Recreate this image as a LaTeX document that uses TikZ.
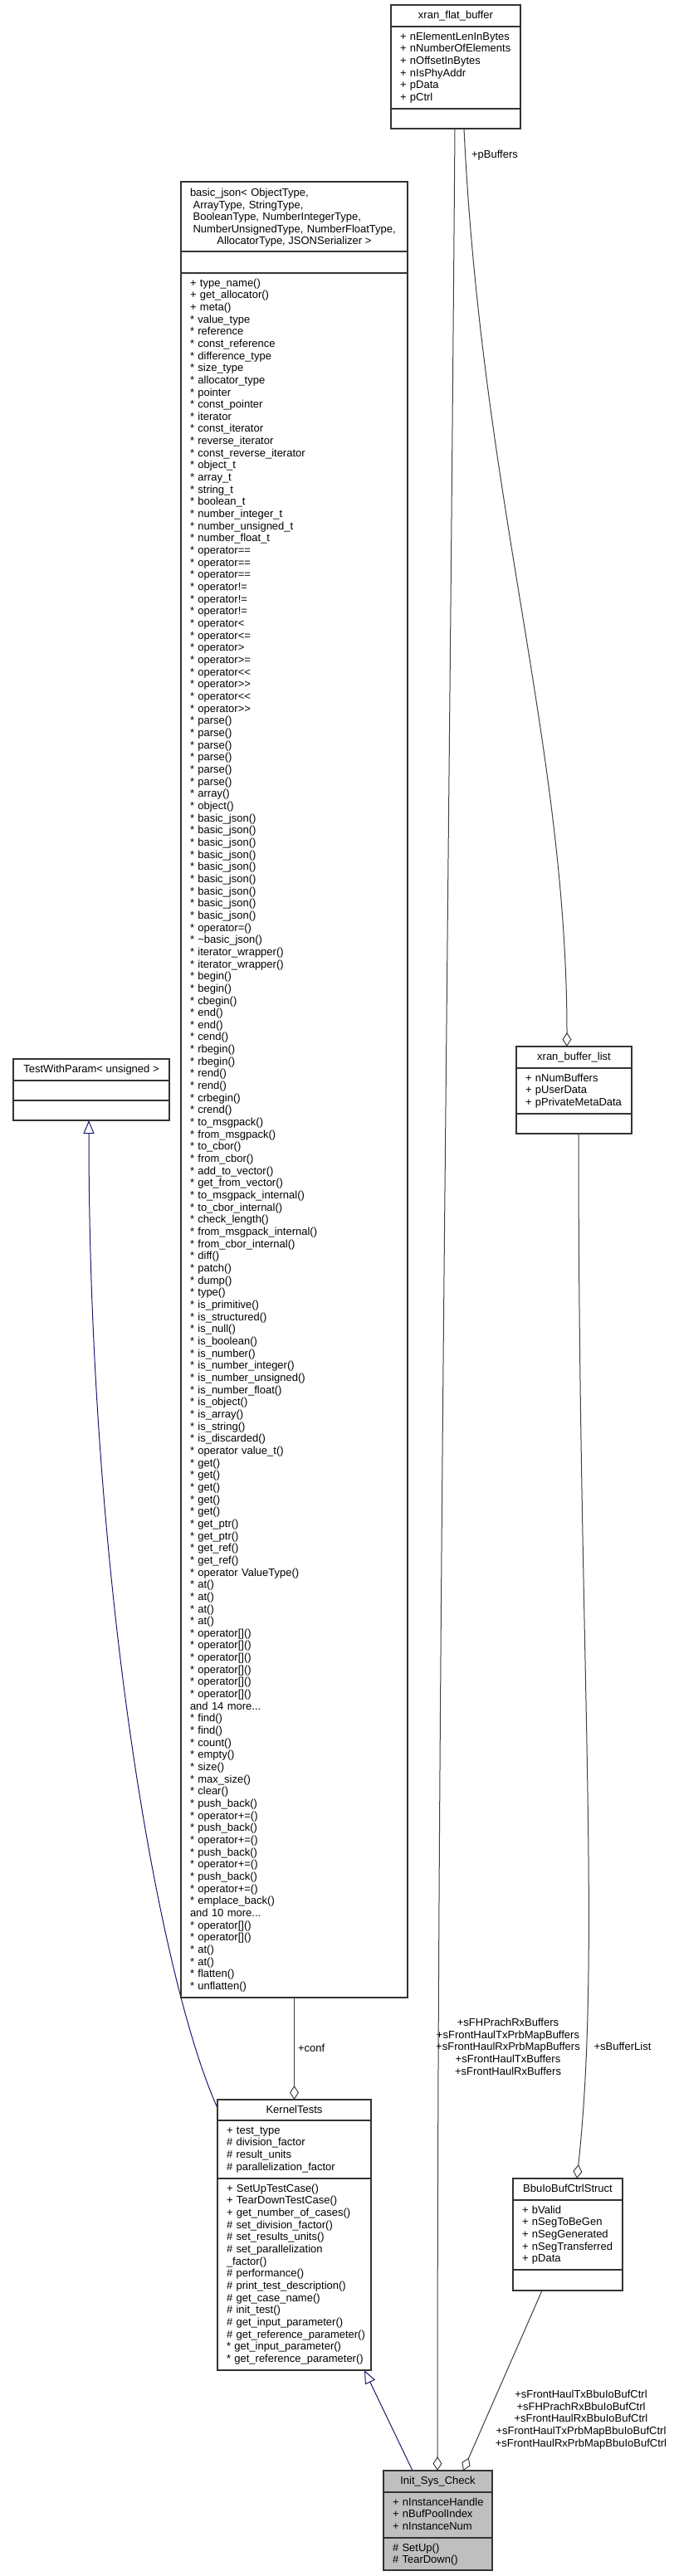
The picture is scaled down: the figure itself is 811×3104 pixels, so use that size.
\documentclass[tikz,border=0pt]{standalone}
\usepackage{fontspec}
\setmainfont{Liberation Sans}
\usetikzlibrary{arrows.meta}
\definecolor{edgegray}{HTML}{404040}
\definecolor{inhblue}{HTML}{191970}
\definecolor{rootgray}{HTML}{BFBFBF}
\definecolor{boxline}{HTML}{333333}
\begin{document}
\begin{tikzpicture}[x=1pt,y=-1pt,
  txt/.style={inner sep=0pt, outer sep=0pt, font=\fontsize{13}{14.66}\selectfont, text=black},
  listtxt/.style={txt, text width=300pt, align=left, anchor=north west},
  labtxt/.style={txt, text width=240pt, align=center, anchor=north},
  titletxt/.style={txt, anchor=base},
  umlbox/.style={draw=boxline, line width=1.2pt, fill=white, inner sep=0pt, outer sep=0pt, anchor=north west},
  rootbox/.style={umlbox, fill=rootgray},
  sepline/.style={draw=boxline, line width=1.2pt},
  agg/.style={draw=edgegray, line width=1pt, -{Diamond[length=17pt,width=11pt,fill=white]}},
  inh/.style={draw=inhblue, line width=1pt, -{Triangle[open,length=16pt,width=13pt]}}]
\fill[white] (0,0) rectangle (811,3104);
\useasboundingbox (0,0) rectangle (811,3104);

% ---------- connector end points ----------
\coordinate (xfbA) at (548,155);
\coordinate (xfbB) at (559,155);
\coordinate (xblIn) at (683,1261);
\coordinate (xblOut) at (697,1366);
\coordinate (bbuIn) at (695,2625);
\coordinate (bbuOut) at (653,2760);
\coordinate (iscInA) at (527,2977);
\coordinate (iscInB) at (558,2977);
\coordinate (iscOut) at (497,2977);
\coordinate (ktOut) at (262,2540);
\coordinate (ktBase) at (439,2856);
\coordinate (twpBase) at (107,1350);
\coordinate (bjOut) at (354.5,2407);
\coordinate (ktIn) at (354.5,2530);

% ---------- connectors ----------
\draw[agg] (xfbA) .. controls (540,1200) and (527,2000) .. (iscInA);
\draw[agg] (xfbB) .. controls (580,600) and (683,900) .. (xblIn);
\draw[agg] (xblOut) .. controls (697,2000) and (725,2350) .. (bbuIn);
\draw[agg] (bbuOut) -- (iscInB);
\draw[agg] (bjOut) -- (ktIn);
\draw[inh] (ktOut) .. controls (190,2380) and (107,1900) .. (twpBase);
\draw[inh] (iscOut) -- (ktBase);

% ---------- xran_flat_buffer ----------
\node[umlbox, minimum width=156pt, minimum height=149pt] (xfb) at (471,6) {};
\draw[sepline] (471,32) -- (627,32);
\draw[sepline] (471,131) -- (627,131);
\node[titletxt] (xfbT) at (549,22.5) {xran\_flat\_buffer};
\node[listtxt] (xfbA1) at (482,37.8) {\strut + nElementLenInBytes\\+ nNumberOfElements\\+ nOffsetInBytes\\+ nIsPhyAddr\\+ pData\\+ pCtrl};

% ---------- basic_json ----------
\node[umlbox, minimum width=273pt, minimum height=2188pt] (bj) at (218,219) {};
\draw[sepline] (218,303) -- (491,303);
\draw[sepline] (218,329) -- (491,329);
\node[listtxt] (bjT1) at (229,226.3) {\strut basic\_json< ObjectType,\\\hspace*{3.6pt}ArrayType, StringType,\\\hspace*{3.6pt}BooleanType, NumberIntegerType,\\\hspace*{3.6pt}NumberUnsignedType, NumberFloatType,};
\node[titletxt] (bjT2) at (354.5,294.6) {AllocatorType, JSONSerializer >};
\node[listtxt] (bjM) at (229,334.8) {\strut + type\_name()\\{}+ get\_allocator()\\{}+ meta()\\{}* value\_type\\{}* reference\\{}* const\_reference\\{}* difference\_type\\{}* size\_type\\{}* allocator\_type\\{}* pointer\\{}* const\_pointer\\{}* iterator\\{}* const\_iterator\\{}* reverse\_iterator\\{}* const\_reverse\_iterator\\{}* object\_t\\{}* array\_t\\{}* string\_t\\{}* boolean\_t\\{}* number\_integer\_t\\{}* number\_unsigned\_t\\{}* number\_float\_t\\{}* operator==\\{}* operator==\\{}* operator==\\{}* operator!=\\{}* operator!=\\{}* operator!=\\{}* operator<\\{}* operator<=\\{}* operator>\\{}* operator>=\\{}* operator<{}<\\{}* operator>{}>\\{}* operator<{}<\\{}* operator>{}>\\{}* parse()\\{}* parse()\\{}* parse()\\{}* parse()\\{}* parse()\\{}* parse()\\{}* array()\\{}* object()\\{}* basic\_json()\\{}* basic\_json()\\{}* basic\_json()\\{}* basic\_json()\\{}* basic\_json()\\{}* basic\_json()\\{}* basic\_json()\\{}* basic\_json()\\{}* basic\_json()\\{}* operator=()\\{}* \textasciitilde basic\_json()\\{}* iterator\_wrapper()\\{}* iterator\_wrapper()\\{}* begin()\\{}* begin()\\{}* cbegin()\\{}* end()\\{}* end()\\{}* cend()\\{}* rbegin()\\{}* rbegin()\\{}* rend()\\{}* rend()\\{}* crbegin()\\{}* crend()\\{}* to\_msgpack()\\{}* from\_msgpack()\\{}* to\_cbor()\\{}* from\_cbor()\\{}* add\_to\_vector()\\{}* get\_from\_vector()\\{}* to\_msgpack\_internal()\\{}* to\_cbor\_internal()\\{}* check\_length()\\{}* from\_msgpack\_internal()\\{}* from\_cbor\_internal()\\{}* diff()\\{}* patch()\\{}* dump()\\{}* type()\\{}* is\_primitive()\\{}* is\_structured()\\{}* is\_null()\\{}* is\_boolean()\\{}* is\_number()\\{}* is\_number\_integer()\\{}* is\_number\_unsigned()\\{}* is\_number\_float()\\{}* is\_object()\\{}* is\_array()\\{}* is\_string()\\{}* is\_discarded()\\{}* operator value\_t()\\{}* get()\\{}* get()\\{}* get()\\{}* get()\\{}* get()\\{}* get\_ptr()\\{}* get\_ptr()\\{}* get\_ref()\\{}* get\_ref()\\{}* operator ValueType()\\{}* at()\\{}* at()\\{}* at()\\{}* at()\\{}* operator[]()\\{}* operator[]()\\{}* operator[]()\\{}* operator[]()\\{}* operator[]()\\{}* operator[]()\\{}and 14 more...\\{}* find()\\{}* find()\\{}* count()\\{}* empty()\\{}* size()\\{}* max\_size()\\{}* clear()\\{}* push\_back()\\{}* operator+=()\\{}* push\_back()\\{}* operator+=()\\{}* push\_back()\\{}* operator+=()\\{}* push\_back()\\{}* operator+=()\\{}* emplace\_back()\\{}and 10 more...\\{}* operator[]()\\{}* operator[]()\\{}* at()\\{}* at()\\{}* flatten()\\{}* unflatten()};

% ---------- TestWithParam ----------
\node[umlbox, minimum width=188pt, minimum height=74pt] (twp) at (16,1276) {};
\draw[sepline] (16,1302) -- (204,1302);
\draw[sepline] (16,1326) -- (204,1326);
\node[titletxt] (twpT) at (110,1292.5) {TestWithParam< unsigned >};

% ---------- xran_buffer_list ----------
\node[umlbox, minimum width=139pt, minimum height=105pt] (xbl) at (622,1261) {};
\draw[sepline] (622,1287) -- (761,1287);
\draw[sepline] (622,1342) -- (761,1342);
\node[titletxt] (xblT) at (691.5,1277.5) {xran\_buffer\_list};
\node[listtxt] (xblA) at (633,1292.8) {\strut + nNumBuffers\\+ pUserData\\+ pPrivateMetaData};

% ---------- BbuIoBufCtrlStruct ----------
\node[umlbox, minimum width=132pt, minimum height=135pt] (bbu) at (618,2625) {};
\draw[sepline] (618,2651) -- (750,2651);
\draw[sepline] (618,2735) -- (750,2735);
\node[titletxt] (bbuT) at (684,2641.5) {BbuIoBufCtrlStruct};
\node[listtxt] (bbuA) at (629,2656.8) {\strut + bValid\\+ nSegToBeGen\\+ nSegGenerated\\+ nSegTransferred\\+ pData};

% ---------- KernelTests ----------
\node[umlbox, minimum width=185pt, minimum height=326pt] (kt) at (262,2530) {};
\draw[sepline] (262,2555) -- (447,2555);
\draw[sepline] (262,2625) -- (447,2625);
\node[titletxt] (ktT) at (354.5,2546.5) {KernelTests};
\node[listtxt] (ktA) at (273,2560.8) {\strut + test\_type\\\# division\_factor\\\# result\_units\\\# parallelization\_factor};
\node[listtxt] (ktM) at (273,2630.8) {\strut + SetUpTestCase()\\{}+ TearDownTestCase()\\{}+ get\_number\_of\_cases()\\{}\# set\_division\_factor()\\{}\# set\_results\_units()\\{}\# set\_parallelization\\{}\_factor()\\{}\# performance()\\{}\# print\_test\_description()\\{}\# get\_case\_name()\\{}\# init\_test()\\{}\# get\_input\_parameter()\\{}\# get\_reference\_parameter()\\{}* get\_input\_parameter()\\{}* get\_reference\_parameter()};

% ---------- Init_Sys_Check ----------
\node[rootbox, minimum width=131pt, minimum height=120pt] (isc) at (462,2977) {};
\draw[sepline] (462,3003) -- (593,3003);
\draw[sepline] (462,3058) -- (593,3058);
\node[titletxt] (iscT) at (527.5,2993.5) {Init\_Sys\_Check};
\node[listtxt] (iscA) at (473,3008.8) {\strut + nInstanceHandle\\+ nBufPoolIndex\\+ nInstanceNum};
\node[listtxt] (iscM) at (473,3063.8) {\strut \# SetUp()\\\# TearDown()};

% ---------- connector labels ----------
\node[titletxt] (lblPB) at (596,190.6) {+pBuffers};
\node[labtxt] (lblXFB) at (612,2431.3) {\strut +sFHPrachRxBuffers\\+sFrontHaulTxPrbMapBuffers\\+sFrontHaulRxPrbMapBuffers\\+sFrontHaulTxBuffers\\+sFrontHaulRxBuffers};
\node[titletxt] (lblBL) at (750,2470.6) {+sBufferList};
\node[txt, anchor=base west] (lblConf) at (359,2472.6) {+conf};
\node[labtxt] (lblBBU) at (700,2879.3) {\strut +sFrontHaulTxBbuIoBufCtrl\\+sFHPrachRxBbuIoBufCtrl\\+sFrontHaulRxBbuIoBufCtrl\\+sFrontHaulTxPrbMapBbuIoBufCtrl\\+sFrontHaulRxPrbMapBbuIoBufCtrl};
\end{tikzpicture}
\end{document}
